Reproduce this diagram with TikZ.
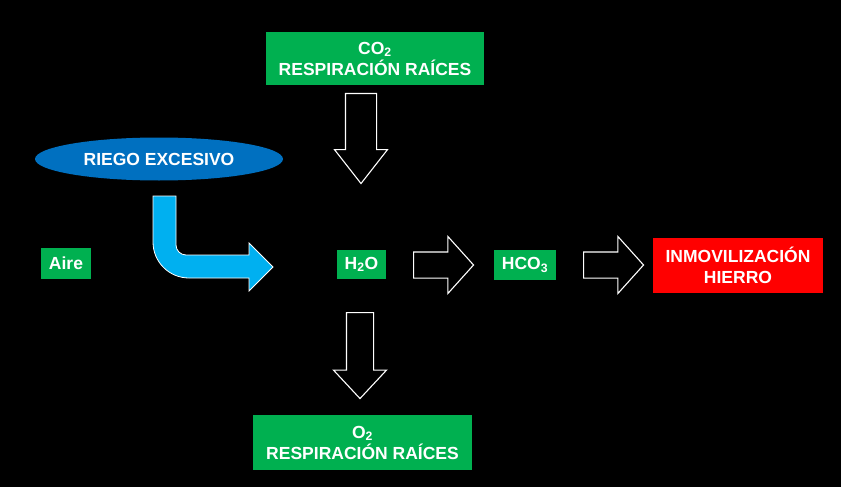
\documentclass[tikz,border=0pt]{standalone}
\usepackage{fontspec}
\setmainfont{Liberation Sans}
\usetikzlibrary{shapes.geometric,shapes.arrows,positioning}
\definecolor{boxgreen}{HTML}{00B050}
\definecolor{ovalblue}{HTML}{0070C0}
\definecolor{arrowblue}{HTML}{00B0F0}
\definecolor{boxred}{HTML}{FF0000}

\begin{document}
\begin{tikzpicture}[x=1pt,y=-1pt,
  every node/.style={text=white,font=\fontsize{17.5}{21}\selectfont\bfseries,align=center,inner sep=0pt},
  greenbox/.style={rectangle,fill=boxgreen},
  hollow/.style={single arrow,draw=white,fill=black,line width=1.1pt,inner xsep=0pt}]
%background
\fill[black] (0,0) rectangle (841,487);

%boxes
\node[greenbox,minimum width=218,minimum height=53] (co2) at (375,58.5) {CO\textsubscript{2}\\RESPIRACIÓN RAÍCES};
\node[ellipse,fill=ovalblue,minimum width=248,minimum height=43] (riego) at (159,159) {RIEGO EXCESIVO};
\node[greenbox,minimum width=50,minimum height=31] (aire) at (66,263.5) {Aire};
\node[greenbox,minimum width=49,minimum height=29] (h2o) at (361.5,264.5) {H\textsubscript{2}O};
\node[greenbox,minimum width=62,minimum height=30] (hco3) at (525,265) {HCO\textsubscript{3}};
\node[rectangle,fill=boxred,minimum width=170,minimum height=55] (hierro) at (738,265.5) {INMOVILIZACIÓN\\HIERRO};
\node[greenbox,minimum width=219,minimum height=55] (o2) at (362.5,442.5) {O\textsubscript{2}\\RESPIRACIÓN RAÍCES};

%hollow arrows
\node[hollow,rotate=-90,anchor=tail,minimum height=90,inner ysep=15,single arrow head extend=11,single arrow tip angle=76] (arrco2) at (361,93) {};
\node[hollow,anchor=tail,minimum height=60,inner ysep=12.5,single arrow head extend=15.5,single arrow tip angle=96] (arrh2o) at (413,265) {};
\node[hollow,anchor=tail,minimum height=60,inner ysep=12.5,single arrow head extend=15.5,single arrow tip angle=96] (arrhco3) at (583,265) {};
\node[hollow,rotate=-90,anchor=tail,minimum height=86,inner ysep=13,single arrow head extend=13,single arrow tip angle=86] (arro2) at (360,312) {};

%riego arrow
\draw[fill=arrowblue,draw=white,line width=0.8pt] (153,196) -- (176,196) -- (176,245)
  .. controls (176,250.5) and (180.5,255) .. (186,255) -- (249,255) -- (249,243) -- (273,267)
  -- (249,291) -- (249,278) -- (189,278) .. controls (169.1,278) and (153,261.9) .. (153,242) -- cycle;
\end{tikzpicture}
\end{document}
